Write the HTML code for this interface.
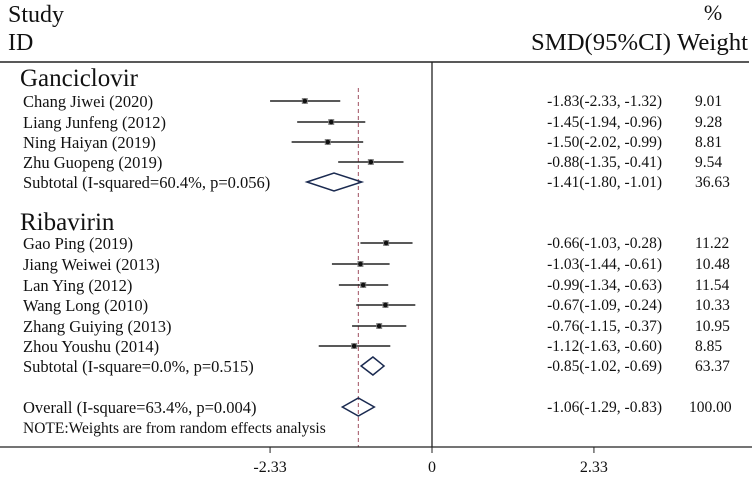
<!DOCTYPE html>
<html><head><meta charset="utf-8"><style>
body{margin:0;background:#fff}
svg text{font-family:"Liberation Serif",serif;fill:#111}
</style></head><body>
<svg width="752" height="477" id="c">
<text x="8" y="22" font-size="24">Study</text>
<text x="8" y="50" font-size="24">ID</text>
<text x="713" y="20" font-size="22" text-anchor="middle">%</text>
<text x="531" y="50" font-size="24" textLength="140" lengthAdjust="spacingAndGlyphs">SMD(95%CI)</text>
<text x="677" y="50" font-size="24" textLength="71" lengthAdjust="spacingAndGlyphs">Weight</text>
<line x1="0" y1="62" x2="749" y2="62" stroke="#222" stroke-width="1.4"/>
<text x="20" y="86" font-size="25">Ganciclovir</text>
<text x="20" y="230" font-size="25">Ribavirin</text>
<g id="g"></g>
</svg>
<script>
const names=["Chang Jiwei (2020)","Liang Junfeng (2012)","Ning Haiyan (2019)","Zhu Guopeng (2019)","Subtotal (I-squared=60.4%, p=0.056)","Gao Ping (2019)","Jiang Weiwei (2013)","Lan Ying (2012)","Wang Long (2010)","Zhang Guiying (2013)","Zhou Youshu (2014)","Subtotal (I-square=0.0%, p=0.515)","Overall (I-square=63.4%, p=0.004)"];
const est=[-1.83,-1.45,-1.50,-0.88,-1.41,-0.66,-1.03,-0.99,-0.67,-0.76,-1.12,-0.85,-1.06];
const lo=[-2.33,-1.94,-2.02,-1.35,-1.80,-1.03,-1.44,-1.34,-1.09,-1.15,-1.63,-1.02,-1.29];
const hi=[-1.32,-0.96,-0.99,-0.41,-1.01,-0.28,-0.61,-0.63,-0.24,-0.37,-0.60,-0.69,-0.83];
const weights=["9.01","9.28","8.81","9.54","36.63","11.22","10.48","11.54","10.33","10.95","8.85","63.37","100.00"];
const isDiamond=[0,0,0,0,1,0,0,0,0,0,0,1,1];
const rowY=[101,122,142,162,182,243,264,285,305,326,346,366,407];
const ticks=[-2.33,0,2.33];
const tickLabels=["-2.33","0","2.33"];
const overall=-1.06;
const x=v=>432+v*69.5;
const g=document.getElementById('g');const NS="http://www.w3.org/2000/svg";
function mk(t,a,txt){const e=document.createElementNS(NS,t);for(const k in a)e.setAttribute(k,a[k]);if(txt!==undefined)e.textContent=txt;g.appendChild(e);return e;}
let e;
e=mk('line',{x1:432,y1:62,x2:432,y2:447,stroke:'#222','stroke-width':1.3});


e=mk('line',{x1:x(overall),y1:88,x2:x(overall),y2:447,stroke:'#a05060','stroke-width':1,'stroke-dasharray':'4,3'});


e=mk('line',{x1:0,y1:447,x2:752,y2:447,stroke:'#222','stroke-width':1.3});


ticks.forEach((t,i)=>{
 e=mk('line',{x1:x(t),y1:447,x2:x(t),y2:453,stroke:'#222'});
 
 
 e=mk('text',{x:x(t),y:472,'font-size':16,'text-anchor':'middle'},tickLabels[i]);
 
 
});
names.forEach((n,i)=>{
 const y=rowY[i];
 e=mk('text',{x:23,y:y+6,'font-size':16.5},n);
 
 
 if(isDiamond[i]){
  e=mk('polygon',{points:`${x(lo[i])},${y} ${x(est[i])},${y-9} ${x(hi[i])},${y} ${x(est[i])},${y+9}`,fill:'none',stroke:'#1a2a50','stroke-width':1.5});
  
  
 }else{
  e=mk('line',{x1:x(lo[i]),y1:y,x2:x(hi[i]),y2:y,stroke:'#222','stroke-width':1.5});
  
  
  e=mk('rect',{x:x(est[i])-3,y:y-3,width:6,height:6,fill:'#888'});
  
  
  e=mk('circle',{cx:x(est[i]),cy:y,r:2.3,fill:'#111'});
  
  
 }
 const f=v=>v.toFixed(2);
 e=mk('text',{x:662,y:y+5,'font-size':15.5,'text-anchor':'end'},`${f(est[i])}(${f(lo[i])}, ${f(hi[i])})`);
 
 
 e=mk('text',{x:weights[i].length>5?689:695,y:y+5,'font-size':15.5},weights[i]);
 
 
});
e=mk('text',{x:23,y:433,'font-size':15.5},"NOTE:Weights are from random effects  analysis");


</script>
</body></html>
